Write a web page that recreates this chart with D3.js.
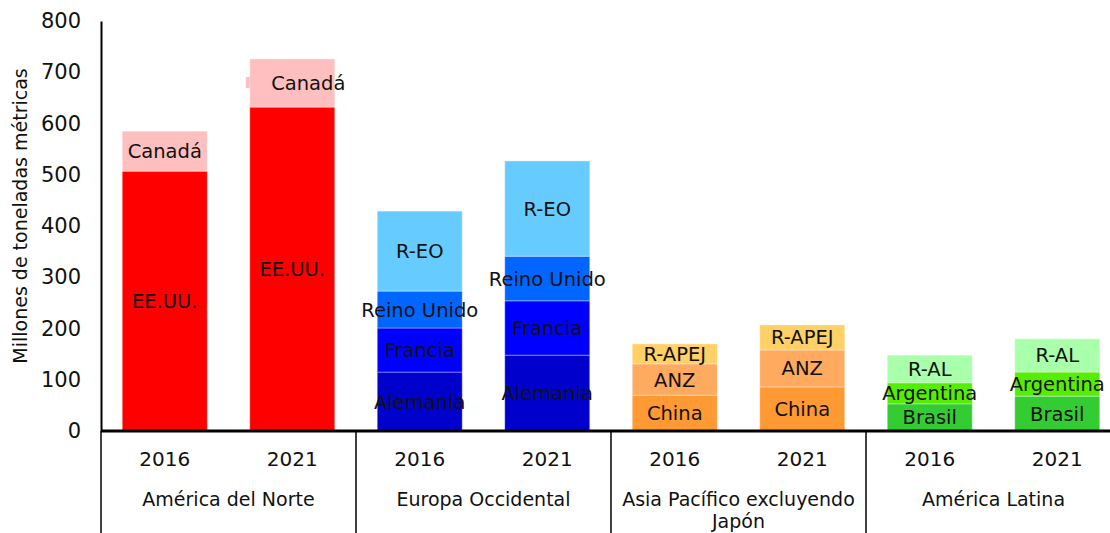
<!DOCTYPE html>
<html>
<head>
<meta charset="utf-8">
<script src="https://cdn.jsdelivr.net/npm/d3@7"></script>
<style>
  html, body { margin: 0; padding: 0; background: #fff; }
  svg { display: block; font-family: "DejaVu Sans", sans-serif; }
</style>
</head>
<body>
<svg id="chart" width="1110" height="533"></svg>
<script>
// Regions and years on the two-level category axis
const regions = ["América del Norte", "Europa Occidental", "Asia Pacífico excluyendo Japón", "América Latina"];
const regionLines = [["América del Norte"], ["Europa Occidental"], ["Asia Pacífico excluyendo", "Japón"], ["América Latina"]];
const years = ["2016", "2021"];

// Stack segments per region (bottom to top) and their colours
const naSegments = ["EE.UU.", "Canadá"];
const naColors = ["#ff0000", "#ffbfbf"];
const na2016 = [507, 78];
const na2021 = [632, 94];

const weSegments = ["Alemania", "Francia", "Reino Unido", "R-EO"];
const weColors = ["#0000cc", "#0000ff", "#0066ff", "#66ccff"];
const we2016 = [115, 86, 72, 156];
const we2021 = [148, 106, 87, 186];

const apSegments = ["China", "ANZ", "R-APEJ"];
const apColors = ["#ff9933", "#ffaa5f", "#ffd066"];
const ap2016 = [70, 61, 39];
const ap2021 = [86, 72, 49];

const laSegments = ["Brasil", "Argentina", "R-AL"];
const laColors = ["#33cc33", "#55ee00", "#aaffaa"];
const la2016 = [53, 41, 54];
const la2021 = [68, 47, 65];

const yTicks = [0, 100, 200, 300, 400, 500, 600, 700, 800];
const yTitle = "Millones de toneladas métricas";

const groups = [
  { segments: naSegments, colors: naColors, values: [na2016, na2021] },
  { segments: weSegments, colors: weColors, values: [we2016, we2021] },
  { segments: apSegments, colors: apColors, values: [ap2016, ap2021] },
  { segments: laSegments, colors: laColors, values: [la2016, la2021] }
];

// Flatten into one bar per region/year, each with stacked pieces
const bars = [];
groups.forEach((g, gi) => {
  years.forEach((yr, yi) => {
    let base = 0;
    const pieces = g.values[yi].map((v, si) => {
      const p = { name: g.segments[si], color: g.colors[si], y0: base, y1: base + v };
      base += v;
      return p;
    });
    bars.push({ key: gi + "-" + yr, region: gi, year: yr, pieces });
  });
});

const svg = d3.select("#chart");
const plotLeft = 101, plotRight = 1121, plotTop = 21, plotBottom = 431;

const x = d3.scaleBand()
  .domain(bars.map(b => b.key))
  .range([plotLeft, plotRight])
  .paddingInner(1 / 3)
  .paddingOuter(1 / 6);

const y = d3.scaleLinear().domain([0, 800]).range([plotBottom, plotTop]);

// Stacked bars
const barG = svg.append("g");
bars.forEach(b => {
  const g = barG.append("g");
  g.selectAll("rect")
    .data(b.pieces)
    .join("rect")
    .attr("x", x(b.key))
    .attr("width", x.bandwidth())
    .attr("y", d => y(d.y1))
    .attr("height", d => y(d.y0) - y(d.y1))
    .attr("fill", d => d.color)
    .attr("stroke", "rgba(255,255,255,0.35)")
    .attr("stroke-width", 1);
});

// Small label backing tab next to the 2021 Canadá label
const naTop = bars[1].pieces[1];
svg.append("rect")
  .attr("x", x(bars[1].key) - 4)
  .attr("width", 4)
  .attr("y", (y(naTop.y0) + y(naTop.y1)) / 2 - 6)
  .attr("height", 11)
  .attr("fill", naTop.color);

// Segment labels
const labelG = svg.append("g")
  .attr("font-size", 19.5)
  .attr("fill", "#111")
  .attr("text-anchor", "middle");
bars.forEach((b, bi) => {
  b.pieces.forEach(p => {
    let cx = x(b.key) + x.bandwidth() / 2;
    if (bi === 1 && p.name === "Canadá") cx += 16;
    labelG.append("text")
      .attr("x", cx)
      .attr("y", (y(p.y0) + y(p.y1)) / 2)
      .attr("dy", "0.36em")
      .text(p.name);
  });
});

// Y axis
const yAxis = d3.axisLeft(y).tickValues(yTicks).tickSize(0).tickPadding(20);
const yg = svg.append("g").attr("transform", `translate(${plotLeft},0)`).call(yAxis);
yg.select(".domain").attr("stroke", "#000").attr("stroke-width", 2);
yg.selectAll("text").attr("font-size", 21).attr("fill", "#111").attr("font-family", "DejaVu Sans, sans-serif");

svg.append("text")
  .attr("transform", `translate(20,${(plotTop + plotBottom) / 2 - 10}) rotate(-90)`)
  .attr("text-anchor", "middle")
  .attr("dy", "0.36em")
  .attr("font-size", 19)
  .attr("fill", "#111")
  .text(yTitle);

// Category axis: baseline, year labels, region separators and names
svg.append("line")
  .attr("x1", plotLeft).attr("x2", 1110)
  .attr("y1", plotBottom).attr("y2", plotBottom)
  .attr("stroke", "#000").attr("stroke-width", 3);

svg.append("g").attr("font-size", 20).attr("fill", "#111").attr("text-anchor", "middle")
  .selectAll("text")
  .data(bars)
  .join("text")
  .attr("x", d => x(d.key) + x.bandwidth() / 2)
  .attr("y", 459)
  .attr("dy", "0.36em")
  .text(d => d.year);

const groupEdges = regions.map((r, gi) => x.step() * 2 * gi + plotLeft);
svg.append("g").selectAll("line")
  .data(groupEdges.concat([plotLeft + x.step() * 8]))
  .join("line")
  .attr("x1", d => d).attr("x2", d => d)
  .attr("y1", plotBottom).attr("y2", 533)
  .attr("stroke", "#000").attr("stroke-width", 1.5);

const regG = svg.append("g").attr("font-size", 19).attr("fill", "#111").attr("text-anchor", "middle");
regionLines.forEach((lines, gi) => {
  const cx = groupEdges[gi] + x.step();
  lines.forEach((ln, li) => {
    regG.append("text")
      .attr("x", cx)
      .attr("y", 499 + li * 22)
      .attr("dy", "0.36em")
      .text(ln);
  });
});
</script>
</body>
</html>
